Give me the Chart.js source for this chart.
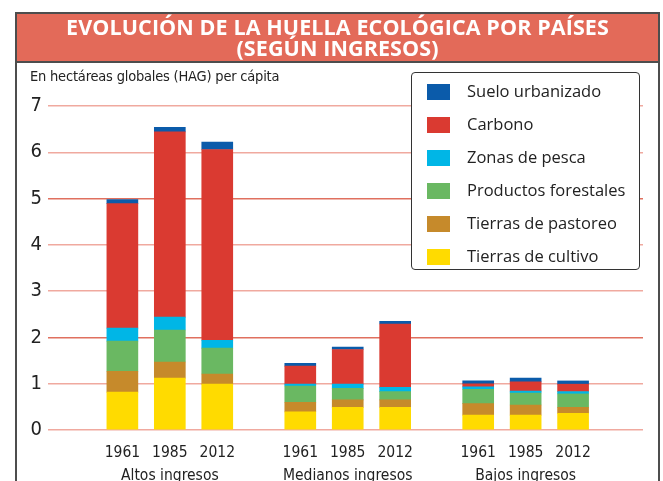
<!DOCTYPE html>
<html>
<head>
<meta charset="utf-8">
<script src="https://cdn.jsdelivr.net/npm/chart.js@4/dist/chart.umd.min.js"></script>
<style>
  html, body { margin: 0; padding: 0; background: #fff; }
  #wrap { position: relative; width: 663px; height: 481px; overflow: hidden; }
  #chart { position: absolute; left: 0; top: 0; }
  #frame { position: absolute; left: 15px; top: 12px; width: 645px; height: 520px;
           border: 2px solid #4d4d4d; box-sizing: border-box; pointer-events: none; }
  #banner { position: absolute; left: 15px; top: 12px; width: 645px; height: 51px; box-sizing: border-box;
            background: #E36A59; border: 2px solid #4d4d4d; color: #fff; text-align: center;
            font-family: "Open Sans", "Noto Sans", sans-serif; font-weight: 700; font-size: 21.5px;
            line-height: 21px; padding-top: 2px; letter-spacing: 0.1px; }
  #caption { position: absolute; left: 30px; top: 68px; font-family: "Liberation Sans Narrow", "DejaVu Sans Condensed", "Roboto Condensed", Roboto, sans-serif;
             font-size: 14.5px; color: #222; white-space: nowrap; letter-spacing: -0.2px; }
  #legend { position: absolute; left: 411px; top: 72px; width: 229px; height: 198px; box-sizing: border-box;
            background: #fff; border: 1.5px solid #333; border-radius: 4px; }
  .item { position: absolute; left: 15px; height: 20px; font-family: "Open Sans", "Noto Sans", sans-serif;
          font-size: 16.5px; color: #222; white-space: nowrap; line-height: 20px; }
  .sw { position: absolute; left: 0; top: 2px; width: 23px; height: 16px; }
  .lbl { position: absolute; left: 40px; top: -1px; }
</style>
</head>
<body>
<div id="wrap">
  <canvas id="chart" width="663" height="481"></canvas>
  <div id="frame"></div>
  <div id="banner">EVOLUCIÓN DE LA HUELLA ECOLÓGICA POR PAÍSES<br>(SEGÚN INGRESOS)</div>
  <div id="caption">En hectáreas globales (HAG) per cápita</div>
  <div id="legend"></div>
</div>
<script>
// ---- Data ----
const years = ['1961', '1985', '2012'];
const groups = ['Altos ingresos', 'Medianos ingresos', 'Bajos ingresos'];
const yTicks = [0, 1, 2, 3, 4, 5, 6, 7];

const tierrasCultivo      = [0.82, 1.12, 0.99,  0.39, 0.49, 0.49,  0.32, 0.32, 0.36];
const tierrasPastoreo     = [0.45, 0.35, 0.22,  0.21, 0.16, 0.16,  0.25, 0.22, 0.13];
const productosForestales = [0.65, 0.69, 0.56,  0.35, 0.25, 0.18,  0.31, 0.26, 0.29];
const zonasPesca          = [0.28, 0.28, 0.17,  0.04, 0.09, 0.09,  0.05, 0.04, 0.05];
const carbono             = [2.69, 4.00, 4.12,  0.39, 0.75, 1.37,  0.07, 0.20, 0.16];
const sueloUrbanizado     = [0.09, 0.10, 0.16,  0.06, 0.05, 0.06,  0.06, 0.08, 0.07];

const seriesNames = ['Tierras de cultivo', 'Tierras de pastoreo', 'Productos forestales',
                     'Zonas de pesca', 'Carbono', 'Suelo urbanizado'];
const seriesValues = [tierrasCultivo, tierrasPastoreo, productosForestales, zonasPesca, carbono, sueloUrbanizado];
const seriesColors = ['#FFDB00', '#C68A2B', '#6AB862', '#00B6E6', '#DA3A31', '#0B5BAA'];

// ---- Layout helpers ----
const GROUP_GAP = 3.75; // group spacing in units of in-group spacing
const positions = [];
const tickLabels = [];
groups.forEach((g, gi) => {
  years.forEach((y, yi) => {
    positions.push(gi * GROUP_GAP + yi);
    tickLabels.push(yi === 1 ? [y, g] : y);
  });
});

const CONDENSED = '"Liberation Sans Narrow", "DejaVu Sans Condensed", "Roboto Condensed", Roboto, sans-serif';

const datasets = seriesNames.map((name, i) => ({
  label: name,
  data: seriesValues[i].map((v, k) => ({ x: positions[k], y: v })),
  backgroundColor: seriesColors[i],
  borderWidth: 0,
  barThickness: 31
}));

const chart = new Chart(document.getElementById('chart'), {
  type: 'bar',
  data: { datasets },
  options: {
    responsive: false,
    animation: false,
    layout: { padding: { top: 106, right: 20, left: 0, bottom: 0 } },
    plugins: { legend: { display: false }, tooltip: { enabled: false } },
    scales: {
      x: {
        type: 'linear',
        stacked: true,
        min: -0.871,
        max: 10.277,
        grid: { display: false, drawTicks: false },
        border: { display: false },
        afterBuildTicks: (scale) => { scale.ticks = positions.map(v => ({ value: v })); },
        afterFit: (scale) => { scale.height = 51; },
        ticks: {
          autoSkip: false,
          maxRotation: 0,
          padding: 12,
          color: '#222',
          font: { family: CONDENSED, size: 15.5, lineHeight: 1.45 },
          callback: (value, index) => tickLabels[index]
        }
      },
      y: {
        stacked: true,
        min: 0,
        max: 7,
        afterBuildTicks: (scale) => { scale.ticks = yTicks.map(v => ({ value: v })); },
        afterFit: (scale) => { scale.width = 48; },
        border: { display: false },
        grid: {
          drawTicks: false,
          color: (ctx) => (ctx.tick && (ctx.tick.value === 2 || ctx.tick.value === 5)) ? '#E0705F' : '#F0A99F',
          lineWidth: 1.5
        },
        ticks: {
          padding: 6,
          color: '#222',
          font: { family: CONDENSED, size: 20 },
          callback: (v) => String(v)
        }
      }
    }
  }
});

// ---- HTML legend built from the chart's datasets (top series first) ----
const legendEl = document.getElementById('legend');
chart.data.datasets.slice().reverse().forEach((ds, i) => {
  const item = document.createElement('div');
  item.className = 'item';
  item.style.top = (9 + i * 32.9) + 'px';
  const sw = document.createElement('div');
  sw.className = 'sw';
  sw.style.background = ds.backgroundColor;
  const lbl = document.createElement('div');
  lbl.className = 'lbl';
  lbl.textContent = ds.label;
  item.appendChild(sw);
  item.appendChild(lbl);
  legendEl.appendChild(item);
});
</script>
</body>
</html>
